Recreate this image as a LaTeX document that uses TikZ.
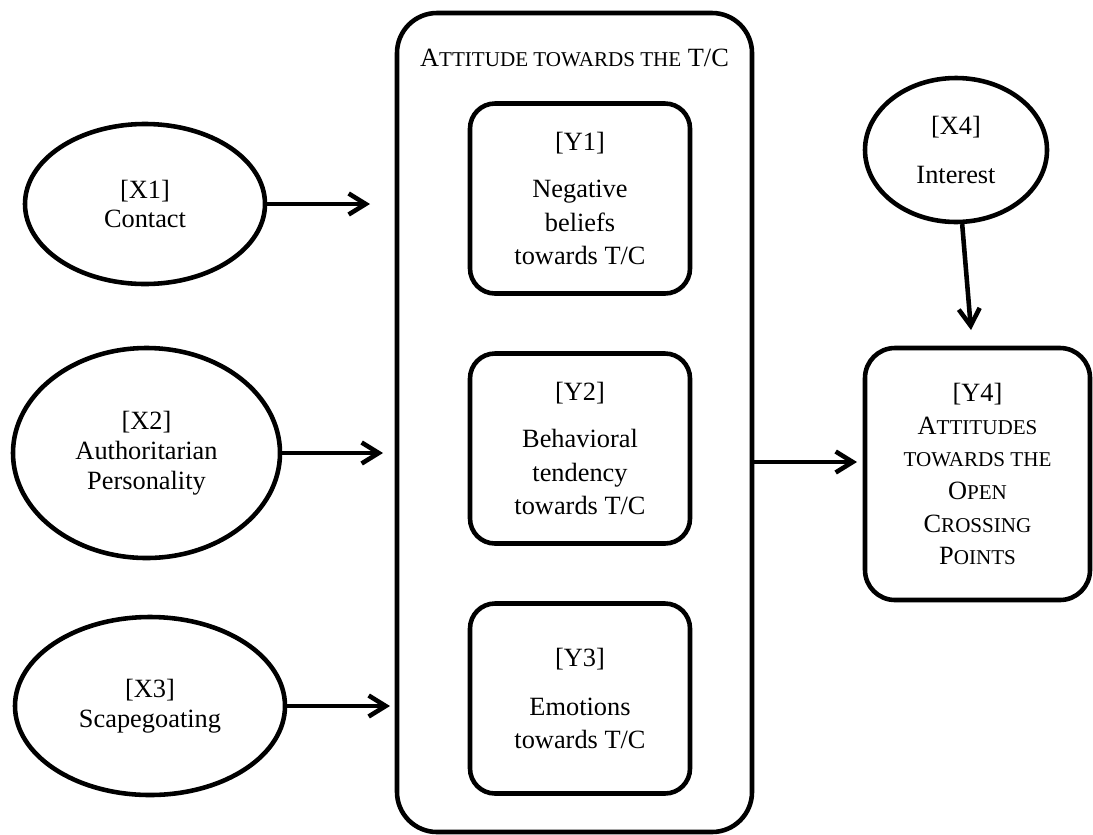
\documentclass[tikz,border=0pt]{standalone}
\usepackage{fontspec}
\setmainfont{Liberation Serif}
\usetikzlibrary{shapes.geometric, arrows.meta}
\newcommand{\smc}[1]{{\fontsize{12}{12}\selectfont #1}}
\tikzstyle{factor} = [ellipse, draw, line width=2.6pt, align=center, inner sep=0, font=\fontsize{15}{17}\selectfont]
\tikzstyle{blocky} = [rectangle, draw, line width=2.6pt, rounded corners=0.5cm, align=center, minimum width=4.4cm, minimum height=3.8cm, font=\fontsize{15}{19}\selectfont]
\tikzstyle{blockz} = [rectangle, draw, line width=2.6pt, rounded corners=0.6cm, align=center, minimum width=4.5cm, minimum height=5.04cm, font=\fontsize{15}{18.6}\selectfont]
\tikzstyle{frame} = [rectangle, draw, line width=2.6pt, rounded corners=0.8cm, minimum width=7.1cm, minimum height=16.38cm]
\tikzstyle{blank} = [inner sep=0,outer sep=0, font=\fontsize{15}{19}\selectfont]
\tikzstyle{line} = [draw, line width=2.6pt, -{Straight Barb[length=3.4mm,width=4.2mm]}]

\begin{document}
\begin{tikzpicture}[node distance=5cm]
\useasboundingbox (0,0) rectangle (21.86,-16.68);

\node [frame] (T) at (11.49,-8.45) {};
\node [blank, above of=T, yshift=2.29cm] (title) {A\smc{TTITUDE TOWARDS THE} T/C};

\node [blocky] (Y2) at (11.6,-8.97) {[Y2]\\[8pt] Behavioral\\ tendency\\ towards T/C};
\node [blocky, above of=Y2] (Y1) {[Y1]\\[8pt] Negative\\ beliefs\\ towards T/C};
\node [blocky, below of=Y2] (Y3) {[Y3]\\[8.5pt] Emotions\\ towards T/C};

\node [factor, minimum width=4.8cm, minimum height=3.2cm] (X1) at (2.9,-4.08) {[X1]\\ Contact};
\node [factor, minimum width=5.34cm, minimum height=4.2cm] (X2) at (2.93,-9.06) {[X2]\\ Authoritarian\\ Personality};
\node [factor, minimum width=5.4cm, minimum height=3.56cm] (X3) at (3.0,-14.12) {[X3]\\ Scapegoating};
\node [factor, minimum width=3.64cm, minimum height=2.88cm] (X4) at (19.12,-3.0) {[X4]\\[11pt] Interest};

\node [blockz] (Y4) at (19.55,-9.48) {[Y4]\\ A\smc{TTITUDES}\\ \smc{TOWARDS THE}\\ O\smc{PEN}\\ C\smc{ROSSING}\\ P\smc{OINTS}};

\coordinate (e1) at (7.4,-4.08);
\coordinate (e2) at (7.66,-9.06);
\coordinate (e3) at (7.8,-14.12);
\coordinate (e4) at (17.14,-9.24);
\coordinate (e5) at (19.42,-6.6);

\path [line] (X1.east) -- (e1);
\path [line] (X2.east) -- (e2);
\path [line] (X3.east) -- (e3);
\path [line] (T.east |- e4) -- (e4);
\path [line] (X4) -- (e5);

\end{tikzpicture}
\end{document}
